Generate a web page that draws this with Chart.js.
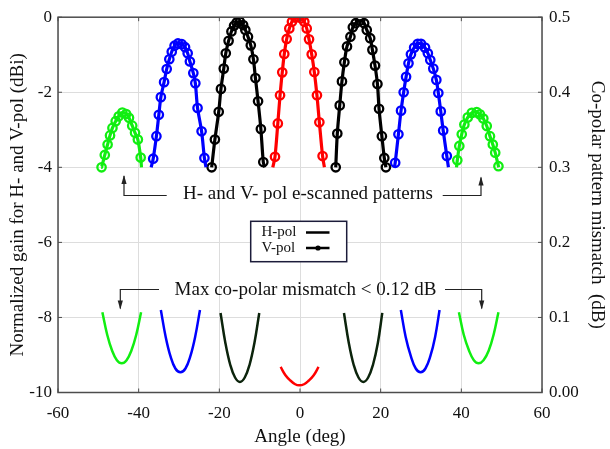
<!DOCTYPE html>
<html>
<head>
<meta charset="utf-8">
<script src="https://cdn.jsdelivr.net/npm/chart.js@4.4.1/dist/chart.umd.min.js"></script>
<style>
  html, body { margin: 0; padding: 0; background: #fff; }
</style>
</head>
<body>
<canvas id="chart" width="610" height="449"></canvas>
<script>
"use strict";

// gain patterns (left axis), V-pol marker positions
var edgeGain = -4;

var beamM45Ang = [-49.2, -48.4, -47.7, -47.1, -46.5, -45.7, -44.95, -44.05, -43.1, -42.4, -41.6, -40.9, -40.2, -39.5];
var beamM45Gain = [-4.0, -3.67, -3.39, -3.15, -2.95, -2.77, -2.64, -2.54, -2.58, -2.68, -2.89, -3.08, -3.26, -3.74];
var beamM45Edge = [-49.3, -39.3];

var beamM30Ang = [-36.4, -35.6, -35.0, -34.5, -33.7, -33.05, -32.4, -31.8, -31.1, -30.25, -29.3, -28.5, -27.85, -27.3, -26.45, -25.95, -25.4, -24.4, -23.7];
var beamM30Gain = [-3.77, -3.17, -2.60, -2.13, -1.73, -1.38, -1.12, -0.92, -0.76, -0.70, -0.72, -0.80, -0.96, -1.18, -1.49, -1.76, -2.42, -3.04, -3.75];
var beamM30Edge = [-36.9, -23.3];

var beamM15Ang = [-21.9, -21.1, -20.15, -19.6, -18.9, -18.4, -17.7, -17.0, -16.35, -15.7, -14.9, -14.1, -13.55, -12.9, -12.2, -11.55, -11.05, -10.4, -9.7, -9.1];
var beamM15Gain = [-4.0, -3.26, -2.52, -1.91, -1.37, -0.96, -0.63, -0.38, -0.23, -0.14, -0.12, -0.21, -0.34, -0.52, -0.75, -1.12, -1.62, -2.24, -2.98, -3.86];
var beamM15Edge = [-21.9, -8.75];

var beam0Ang = [-6.2, -5.5, -4.95, -4.4, -3.9, -3.3, -2.65, -2.0, -1.2, -0.4, 0.35, 1.07, 1.67, 2.24, 2.9, 3.55, 4.2, 4.8, 5.6];
var beam0Gain = [-3.72, -2.83, -2.08, -1.47, -0.98, -0.58, -0.30, -0.12, -0.01, 0.0, -0.03, -0.12, -0.30, -0.59, -0.99, -1.46, -2.08, -2.80, -3.70];
var beam0Edge = [-6.75, 6.05];

var beamP15Ang = [8.86, 9.25, 9.85, 10.4, 11.0, 11.65, 12.5, 13.1, 13.8, 14.9, 15.9, 16.55, 17.4, 17.95, 18.6, 19.2, 19.6, 20.3, 20.9, 21.3];
var beamP15Gain = [-4.0, -3.10, -2.35, -1.71, -1.20, -0.78, -0.52, -0.27, -0.16, -0.09, -0.16, -0.34, -0.56, -0.87, -1.29, -1.78, -2.44, -3.17, -3.75, -4.0];
var beamP15Edge = [8.86, 21.3];

var beamP30Ang = [23.6, 24.4, 25.05, 25.7, 26.3, 26.9, 27.5, 28.3, 29.2, 30.0, 31.0, 31.7, 32.3, 33.05, 33.8, 34.3, 34.9, 35.5, 36.4];
var beamP30Gain = [-3.88, -3.12, -2.49, -2.0, -1.59, -1.23, -0.99, -0.81, -0.71, -0.71, -0.81, -0.96, -1.14, -1.37, -1.67, -2.02, -2.51, -3.02, -3.70];
var beamP30Edge = [23.4, 36.8];

var beamP45Ang = [39.0, 39.5, 40.1, 40.75, 41.6, 42.6, 43.8, 44.6, 45.45, 46.3, 47.1, 47.8, 48.4, 49.2];
var beamP45Gain = [-3.81, -3.43, -3.12, -2.86, -2.67, -2.55, -2.53, -2.59, -2.70, -2.90, -3.17, -3.39, -3.61, -3.97];
var beamP45Edge = [38.8, 49.3];

// co-polar mismatch (right axis, dB)
var mmM45Ang = [-49.0, -47.8, -46.6, -45.4, -44.2, -43.0, -41.8, -40.6, -39.4];
var mmM45Val = [0.107, 0.077, 0.056, 0.043, 0.039, 0.043, 0.056, 0.077, 0.107];
var mmM30Ang = [-34.5, -33.3, -32.1, -30.9, -29.65, -28.4, -27.2, -26.0, -24.8];
var mmM30Val = [0.110, 0.074, 0.048, 0.032, 0.027, 0.032, 0.048, 0.074, 0.110];
var mmM15Ang = [-19.7, -18.5, -17.3, -16.1, -14.9, -13.7, -12.5, -11.3, -10.1];
var mmM15Val = [0.106, 0.066, 0.037, 0.020, 0.014, 0.020, 0.037, 0.066, 0.106];
var mm0Ang = [-4.8, -3.6, -2.4, -1.2, -0.2, 1.0, 2.2, 3.4, 4.6];
var mm0Val = [0.034, 0.023, 0.016, 0.011, 0.0095, 0.011, 0.016, 0.023, 0.034];
var mmP15Ang = [10.9, 12.1, 13.3, 14.5, 15.7, 16.9, 18.1, 19.3, 20.4];
var mmP15Val = [0.106, 0.066, 0.037, 0.020, 0.014, 0.020, 0.037, 0.066, 0.106];
var mmP30Ang = [25.0, 26.2, 27.5, 28.7, 29.9, 31.1, 32.3, 33.5, 34.6];
var mmP30Val = [0.110, 0.074, 0.048, 0.032, 0.027, 0.032, 0.048, 0.074, 0.110];
var mmP45Ang = [39.4, 40.6, 41.9, 43.1, 44.3, 45.5, 46.8, 48.0, 49.2];
var mmP45Val = [0.107, 0.077, 0.056, 0.043, 0.039, 0.043, 0.056, 0.077, 0.107];

var xTicks = [-60, -40, -20, 0, 20, 40, 60];
var leftTicks = [-10, -8, -6, -4, -2, 0];
var rightTickLabels = ["0.00", "0.1", "0.2", "0.3", "0.4", "0.5"];
var legendLabels = ["H-pol", "V-pol"];
var noteTop = "H- and V- pol e-scanned patterns";
var noteBottom = "Max co-polar mismatch < 0.12 dB";

var GREEN = "#11ee11";
var BLUE = "#0000ff";
var BLACK = "#000000";
var RED = "#ff0000";
var DARK = "#0c240c";
var SERIF = "'Liberation Serif', 'Times New Roman', serif";

function pts(xs, ys) {
  return xs.map(function(x, i) {
    return { x: x, y: ys[i] };
  });
}

function hLine(xs, ys, edge) {
  return [{ x: edge[0], y: edgeGain }].concat(pts(xs, ys), [{ x: edge[1], y: edgeGain }]);
}

var datasets = [];
var beams = [
  [beamM45Ang, beamM45Gain, beamM45Edge, GREEN],
  [beamM30Ang, beamM30Gain, beamM30Edge, BLUE],
  [beamM15Ang, beamM15Gain, beamM15Edge, BLACK],
  [beam0Ang, beam0Gain, beam0Edge, RED],
  [beamP15Ang, beamP15Gain, beamP15Edge, BLACK],
  [beamP30Ang, beamP30Gain, beamP30Edge, BLUE],
  [beamP45Ang, beamP45Gain, beamP45Edge, GREEN]
];
beams.forEach(function(b) {
  datasets.push({
    label: "H-pol",
    data: hLine(b[0], b[1], b[2]),
    yAxisID: "y",
    borderColor: b[3],
    borderWidth: 3.2,
    pointRadius: 0,
    tension: 0.3,
    fill: false
  });
  datasets.push({
    label: "V-pol",
    data: pts(b[0], b[1]),
    yAxisID: "y",
    showLine: false,
    pointStyle: "circle",
    pointRadius: 4.2,
    pointBorderWidth: 2.3,
    pointBorderColor: b[3],
    pointBackgroundColor: "rgba(0,0,0,0)"
  });
});

var mismatch = [
  [mmM45Ang, mmM45Val, GREEN],
  [mmM30Ang, mmM30Val, BLUE],
  [mmM15Ang, mmM15Val, DARK],
  [mm0Ang, mm0Val, RED],
  [mmP15Ang, mmP15Val, DARK],
  [mmP30Ang, mmP30Val, BLUE],
  [mmP45Ang, mmP45Val, GREEN]
];
mismatch.forEach(function(m) {
  datasets.push({
    label: "mismatch",
    data: pts(m[0], m[1]),
    yAxisID: "y2",
    borderColor: m[2],
    borderWidth: 2.5,
    pointRadius: 0,
    tension: 0.4,
    fill: false
  });
});

function arrow(ctx, path, dir) {
  ctx.beginPath();
  ctx.moveTo(path[0][0], path[0][1]);
  for (var i = 1; i < path.length; i++) {
    ctx.lineTo(path[i][0], path[i][1]);
  }
  ctx.stroke();
  var tip = path[path.length - 1];
  var s = dir === "up" ? 1 : -1;
  ctx.beginPath();
  ctx.moveTo(tip[0], tip[1] - s * 1);
  ctx.lineTo(tip[0] - 2.6, tip[1] + s * 8);
  ctx.lineTo(tip[0] + 2.6, tip[1] + s * 8);
  ctx.closePath();
  ctx.fill();
}

var decorPlugin = {
  id: "decor",
  beforeDraw: function(chart) {
    var ctx = chart.ctx;
    ctx.save();
    ctx.fillStyle = "#fff";
    ctx.fillRect(0, 0, chart.width, chart.height);
    ctx.restore();
  },
  afterDatasetsDraw: function(chart) {
    var ctx = chart.ctx;
    var a = chart.chartArea;
    var xs = chart.scales.x;
    var ys = chart.scales.y;
    ctx.save();

    // frame and inward ticks
    ctx.strokeStyle = "#4d4d4d";
    ctx.lineWidth = 1.5;
    ctx.strokeRect(a.left, a.top, a.right - a.left, a.bottom - a.top);
    ctx.lineWidth = 1;
    ctx.beginPath();
    xTicks.forEach(function(v) {
      var px = xs.getPixelForValue(v);
      ctx.moveTo(px, a.top);
      ctx.lineTo(px, a.top + 4);
      ctx.moveTo(px, a.bottom);
      ctx.lineTo(px, a.bottom - 4);
    });
    leftTicks.forEach(function(v) {
      var py = ys.getPixelForValue(v);
      ctx.moveTo(a.left, py);
      ctx.lineTo(a.left + 4, py);
      ctx.moveTo(a.right, py);
      ctx.lineTo(a.right - 4, py);
    });
    ctx.stroke();

    // annotations
    ctx.fillStyle = "#111";
    ctx.font = "19px " + SERIF;
    ctx.textAlign = "center";
    ctx.textBaseline = "middle";
    ctx.fillText(noteTop, 308, 194);
    ctx.fillText(noteBottom, 305.5, 290);

    ctx.strokeStyle = "#222";
    ctx.fillStyle = "#222";
    ctx.lineWidth = 1.2;
    arrow(ctx, [[166.7, 195.5], [124, 195.5], [124, 176]], "up");
    arrow(ctx, [[442.7, 195.5], [481, 195.5], [481, 177.5]], "up");
    arrow(ctx, [[159, 289.5], [120.3, 289.5], [120.3, 308.5]], "down");
    arrow(ctx, [[445, 289.5], [481.7, 289.5], [481.7, 308.5]], "down");

    // legend box
    ctx.fillStyle = "#fff";
    ctx.fillRect(250.7, 221.3, 96, 40.4);
    ctx.strokeStyle = "#1c1c3a";
    ctx.lineWidth = 1.5;
    ctx.strokeRect(250.7, 221.3, 96, 40.4);
    ctx.fillStyle = "#111";
    ctx.font = "15px " + SERIF;
    ctx.textAlign = "left";
    ctx.fillText(legendLabels[0], 261.5, 232.5);
    ctx.fillText(legendLabels[1], 261.5, 248);
    ctx.strokeStyle = "#000";
    ctx.lineWidth = 2.5;
    ctx.beginPath();
    ctx.moveTo(306, 232.5);
    ctx.lineTo(329.5, 232.5);
    ctx.moveTo(306, 248);
    ctx.lineTo(329.5, 248);
    ctx.stroke();
    ctx.fillStyle = "#000";
    ctx.beginPath();
    ctx.arc(318, 248, 2.6, 0, Math.PI * 2);
    ctx.fill();

    ctx.restore();
  }
};

var tickFont = { family: SERIF, size: 17 };
var titleFont = { family: SERIF, size: 19 };

new Chart(document.getElementById("chart").getContext("2d"), {
  type: "line",
  data: { datasets: datasets },
  options: {
    responsive: false,
    animation: false,
    devicePixelRatio: 1,
    layout: { padding: { top: 15.5, left: 0, right: 0, bottom: 0 } },
    plugins: {
      legend: { display: false },
      tooltip: { enabled: false }
    },
    scales: {
      x: {
        type: "linear",
        min: -60,
        max: 60,
        afterBuildTicks: function(scale) {
          scale.ticks = xTicks.map(function(v) { return { value: v }; });
        },
        afterFit: function(scale) { scale.height = 56.5; },
        grid: { color: "#dddddd", lineWidth: 1, drawTicks: false },
        border: { display: false },
        ticks: { font: tickFont, color: "#111", padding: 11, maxRotation: 0 },
        title: { display: true, text: "Angle (deg)", font: titleFont, color: "#111", padding: { top: 0, bottom: 0.6 } }
      },
      y: {
        position: "left",
        min: -10,
        max: 0,
        afterBuildTicks: function(scale) {
          scale.ticks = leftTicks.map(function(v) { return { value: v }; });
        },
        afterFit: function(scale) { scale.width = 58; },
        grid: { color: "#dddddd", lineWidth: 1, drawTicks: false },
        border: { display: false },
        ticks: { font: tickFont, color: "#111", padding: 6 },
        title: { display: true, text: "Normalized gain for H- and V-pol (dBi)", font: titleFont, color: "#111", padding: { top: 6.6, bottom: 0 } }
      },
      y2: {
        position: "right",
        min: 0,
        max: 0.5,
        afterBuildTicks: function(scale) {
          scale.ticks = rightTickLabels.map(function(t, i) { return { value: i / 10 }; });
        },
        afterFit: function(scale) { scale.width = 68; },
        grid: { display: false, drawTicks: false },
        border: { display: false },
        ticks: {
          font: tickFont,
          color: "#111",
          padding: 7,
          callback: function(value, index) { return rightTickLabels[index]; }
        },
        title: { display: true, text: "Co-polar pattern mismatch  (dB)", font: titleFont, color: "#111", padding: { top: 2, bottom: 0 } }
      }
    }
  },
  plugins: [decorPlugin]
});
</script>
</body>
</html>
